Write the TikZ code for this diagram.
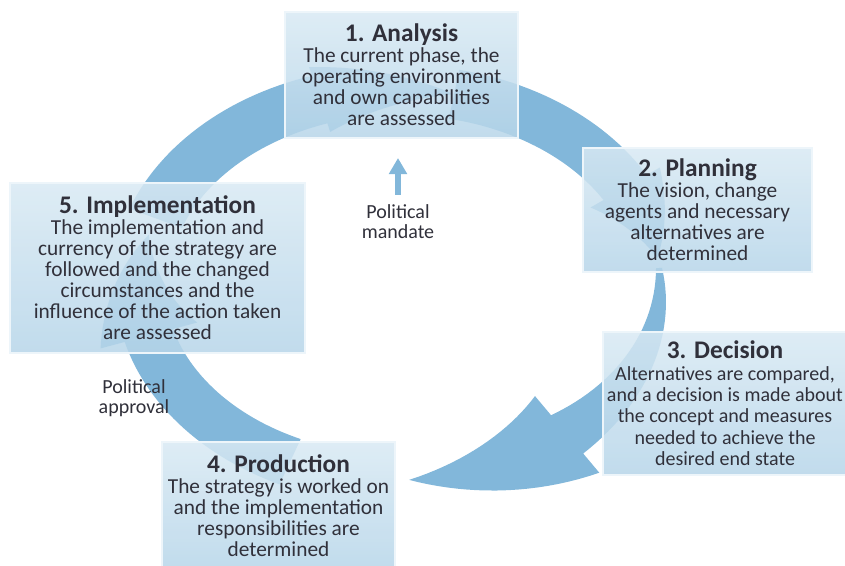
\documentclass[tikz,border=0pt]{standalone}
\usepackage{fontspec}
\setmainfont{Carlito}
\usepackage{xcolor}
\usepackage{tikz}
\usetikzlibrary{arrows.meta}
\definecolor{ringBlue}{RGB}{130,183,218}
\definecolor{boxLight}{RGB}{216,233,243}
\definecolor{boxDark}{RGB}{182,213,233}
\definecolor{inkGray}{RGB}{48,48,58}
\newcommand{\stageTitle}[1]{{\fontsize{19}{16}\selectfont\bfseries #1}}
\tikzstyle{ringArrow} = [fill=ringBlue, draw=none]
\tikzstyle{stageBlock} = [draw=white!55!boxLight, line width=1.2pt, top color=boxLight,
    bottom color=boxDark, fill opacity=0.85, text opacity=1, text=inkGray, align=center,
    font=\fontsize{16}{15.75}\selectfont, inner sep=2pt]
\tikzstyle{noteLabel} = [text=inkGray, align=center, font=\fontsize{15}{15}\selectfont]
\tikzstyle{mandateArrow} = [draw=ringBlue, line width=4.5pt, -{Triangle[width=13pt,length=12pt]}]

\begin{document}
\begin{tikzpicture}[x=0.75pt, y=-0.75pt]
  \useasboundingbox (0,0) rectangle (845,565);
  \clip (0,0) rectangle (845,565);

  % Ring of arrows: tail / head base / tip angle, tail and head half width
  \foreach \ta/\tb/\tc/\wt/\hw in {282/330/352/25/40, -5/50/88/3/50, 115/165/195/25/50, 200/252/282/28/34}{
    \fill[ringArrow]
      plot[domain=\ta:\tb, variable=\t, samples=30]
        ({400+(260+\wt+(25-\wt)*(\t-(\ta))/(\tb-(\ta)))*cos(\t)}, {285+(195+\wt+(25-\wt)*(\t-(\ta))/(\tb-(\ta)))*sin(\t)})
      -- plot[domain=\tb:\tc, variable=\t, samples=20]
        ({400+(260+\hw*(\tc-\t)/(\tc-\tb))*cos(\t)}, {285+(195+\hw*(\tc-\t)/(\tc-\tb))*sin(\t)})
      -- plot[domain=\tc:\tb, variable=\t, samples=20]
        ({400+(260-\hw*(\tc-\t)/(\tc-\tb))*cos(\t)}, {285+(195-\hw*(\tc-\t)/(\tc-\tb))*sin(\t)})
      -- plot[domain=\tb:\ta, variable=\t, samples=30]
        ({400+(260-\wt-(25-\wt)*(\t-(\ta))/(\tb-(\ta)))*cos(\t)}, {285+(195-\wt-(25-\wt)*(\t-(\ta))/(\tb-(\ta)))*sin(\t)})
      -- cycle;
  }

  % Place nodes
  \node [stageBlock, minimum width=174.75pt, minimum height=94.5pt] (analysis) at (401.5,75)
    {\stageTitle{1. Analysis}\\The current phase, the\\operating environment\\and own capabilities\\are assessed};
  \node [stageBlock, minimum width=171.75pt, minimum height=93pt] (planning) at (697.5,210)
    {\stageTitle{2. Planning}\\The vision, change\\agents and necessary\\alternatives are\\determined};
  \node [stageBlock, minimum width=183pt, minimum height=107.25pt, font=\fontsize{15}{16}\selectfont] (decision) at (725,403.5)
    {\stageTitle{3. Decision}\\Alternatives are compared,\\and a decision is made about\\the concept and measures\\needed to achieve the\\desired end state};
  \node [stageBlock, minimum width=174.75pt, minimum height=96pt] (production) at (278.5,506)
    {\stageTitle{4. Production}\\The strategy is worked on\\and the implementation\\responsibilities are\\determined};
  \node [stageBlock, minimum width=221.25pt, minimum height=127.5pt] (implementation) at (157.5,268)
    {\stageTitle{5. Implementation}\\The implementation and\\currency of the strategy are\\followed and the changed\\circumstances and the\\influence of the action taken\\are assessed};

  \node [noteLabel] (mandate) at (398,222) {Political\\mandate};
  \node [noteLabel] (approval) at (134,398) {Political\\approval};
  \coordinate (mandateTip) at (398,158);

  \path [mandateArrow, shorten <=4pt] (mandate.north) -- (mandateTip);
\end{tikzpicture}
\end{document}
